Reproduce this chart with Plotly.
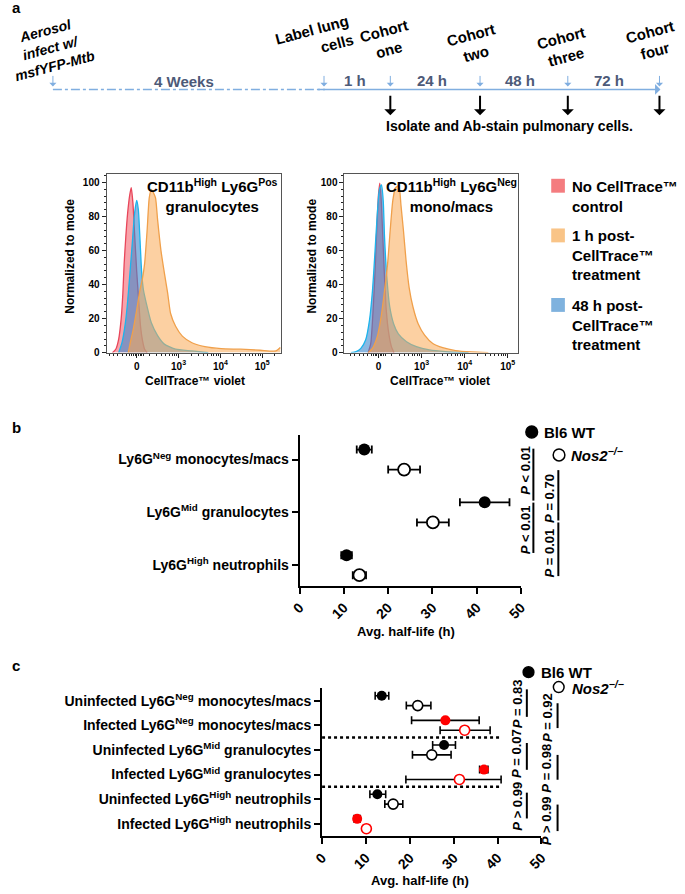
import plotly.graph_objects as go
import math

W, H = 685, 894
FONT = "Liberation Sans, Arial, sans-serif"


def X(px):
    return px / W


def Y(py):
    return 1 - py / H


# ---------------- Panel a : CellTrace histograms ----------------
# display scale: 0 -> 0, 10^3 -> 1, 10^4 -> 2, 10^5 -> 3
hist_tickvals = [0, 1, 2, 3]
hist_ticktext = ["0", "10<sup>3</sup>", "10<sup>4</sup>", "10<sup>5</sup>"]
hist_yticks = [0, 20, 40, 60, 80, 100]
hist_series = ["No CellTrace™<br>control", "1 h post-<br>CellTrace™<br>treatment",
               "48 h post-<br>CellTrace™<br>treatment"]
hist_titles = ["CD11b<sup>High</sup> Ly6G<sup>Pos</sup><br>granulocytes",
               "CD11b<sup>High</sup> Ly6G<sup>Neg</sup><br>mono/macs"]

gran_ctrl_x = [-0.58, -0.50, -0.43, -0.37, -0.33, -0.30, -0.26, -0.22, -0.17, -0.13, -0.09, -0.05,
               0.00, 0.05, 0.09, 0.14, 0.19, 0.25]
gran_ctrl_y = [0, 2, 8, 20, 35, 52, 68, 81, 92, 97, 88, 70, 48, 30, 16, 7, 2, 0]
gran_48h_x = [-0.43, -0.35, -0.27, -0.22, -0.16, -0.10, -0.05, 0.00, 0.04, 0.08, 0.12, 0.16, 0.23,
              0.35, 0.50, 0.66, 0.93, 1.32, 1.71]
gran_48h_y = [0, 6, 17.5, 29, 47, 66, 82, 89.5, 84, 66, 47, 37, 29, 17.5, 10, 5, 2, 1, 0]
gran_1h_x = [-0.20, -0.16, -0.08, 0.00, 0.08, 0.14, 0.19, 0.25, 0.30, 0.35, 0.40, 0.45, 0.50, 0.58,
             0.66, 0.74, 0.81, 0.93, 1.09, 1.32, 1.63, 2.02, 2.48, 2.95, 3.33, 3.43]
gran_1h_y = [0, 5, 14, 25, 37, 44, 52.5, 72, 91, 96, 94, 91, 78, 60, 47, 35, 23, 15.5, 9.7, 5.8,
             3.5, 2.3, 2, 1.4, 1, 3]

mono_ctrl_x = [-0.24, -0.18, -0.13, -0.08, -0.04, 0.00, 0.03, 0.06, 0.10, 0.14, 0.18, 0.24, 0.30, 0.36]
mono_ctrl_y = [0, 5.4, 23, 48, 73, 93, 99.6, 91, 68, 44, 25, 11, 3.5, 0]
mono_48h_x = [-0.64, -0.52, -0.41, -0.30, -0.21, -0.14, -0.08, -0.03, 0.02, 0.07, 0.11, 0.14, 0.20,
              0.26, 0.35, 0.46, 0.65, 0.88, 1.18, 1.56, 2.09]
mono_48h_y = [0, 0.6, 2.5, 7.4, 19, 36.5, 60, 81, 95.7, 98.6, 89, 67.6, 42, 27, 17, 11, 6.4, 3.5,
              1.6, 0.6, 0]
mono_1h_x = [-0.24, -0.14, -0.03, 0.06, 0.14, 0.21, 0.27, 0.33, 0.39, 0.45, 0.49, 0.52, 0.58, 0.64,
             0.71, 0.80, 0.92, 1.07, 1.26, 1.49, 1.79, 2.17, 2.55]
mono_1h_y = [0, 2.5, 9.3, 21, 36.5, 52, 71.5, 89, 96.7, 98, 95.7, 87, 71.5, 54, 38.4, 26.8, 17,
             10.3, 5.4, 2.9, 1.2, 0.4, 0]

# ---------------- Panel b ----------------
b_cats = ["Ly6G<sup>Neg</sup> monocytes/macs", "Ly6G<sup>Mid</sup> granulocytes",
          "Ly6G<sup>High</sup> neutrophils"]
b_wt = [14.6, 41.8, 10.6]
b_wt_sem = [1.7, 5.6, 1.2]
b_ko = [23.6, 30.1, 13.5]
b_ko_sem = [3.6, 3.6, 1.5]
b_p_col1 = ["<i>P</i> &lt; 0.01", "<i>P</i> &lt; 0.01"]
b_p_col2 = ["<i>P</i> = 0.70", "<i>P</i> = 0.01"]

# ---------------- Panel c ----------------
c_cats = ["Uninfected Ly6G<sup>Neg</sup> monocytes/macs", "Infected Ly6G<sup>Neg</sup> monocytes/macs",
          "Uninfected Ly6G<sup>Mid</sup> granulocytes", "Infected Ly6G<sup>Mid</sup> granulocytes",
          "Uninfected Ly6G<sup>High</sup> neutrophils", "Infected Ly6G<sup>High</sup> neutrophils"]
c_infected = [False, True, False, True, False, True]
c_wt = [13.6, 28.1, 27.8, 36.9, 12.6, 8.0]
c_wt_lo = [1.5, 7.7, 2.6, 1.0, 1.7, 0.7]
c_wt_hi = [1.6, 7.7, 2.6, 0.9, 1.9, 0.7]
c_ko = [21.8, 32.5, 25.0, 31.3, 16.2, 10.1]
c_ko_lo = [2.6, 5.6, 4.4, 12.2, 1.9, 0.0]
c_ko_hi = [3.0, 5.8, 4.4, 9.5, 2.2, 0.0]
c_p_col1 = ["<i>P</i> = 0.83", "<i>P</i> = 0.07", "<i>P</i> &gt; 0.99"]
c_p_col2 = ["<i>P</i> = 0.92", "<i>P</i> = 0.98", "<i>P</i> &gt; 0.99"]

x_ticks = [0, 10, 20, 30, 40, 50]

# ---------------- styles ----------------
RED_L, RED_F = "#e8465a", "rgba(242,88,100,0.55)"
ORA_L, ORA_F = "#f0a04b", "rgba(250,170,85,0.55)"
BLU_L, BLU_F = "#1cb4ec", "rgba(60,135,205,0.6)"
SLATE = "#4d5a78"
LBLUE = "#80aee0"

fig = go.Figure()


def hist(x, y, line, fill, xa, ya):
    fig.add_trace(go.Scatter(x=x, y=y, mode="lines", fill="tozeroy", fillcolor=fill,
                             line=dict(color=line, width=1.3, shape="spline", smoothing=0.6),
                             xaxis=xa, yaxis=ya, hoverinfo="skip"))


hist(gran_ctrl_x, gran_ctrl_y, RED_L, RED_F, "x", "y")
hist(gran_48h_x, gran_48h_y, BLU_L, BLU_F, "x", "y")
hist(gran_1h_x, gran_1h_y, ORA_L, ORA_F, "x", "y")
hist(mono_ctrl_x, mono_ctrl_y, RED_L, RED_F, "x2", "y2")
hist(mono_48h_x, mono_48h_y, BLU_L, BLU_F, "x2", "y2")
hist(mono_1h_x, mono_1h_y, ORA_L, ORA_F, "x2", "y2")

# panel b points
nb = len(b_cats)
b_pos = [nb - 1 - i for i in range(nb)]
off_b = 0.19
fig.add_trace(go.Scatter(x=b_wt, y=[p + off_b for p in b_pos], mode="markers",
                         marker=dict(size=12, color="black", symbol="circle"),
                         error_x=dict(type="data", array=b_wt_sem, color="black", thickness=1.8, width=4),
                         xaxis="x3", yaxis="y3"))
fig.add_trace(go.Scatter(x=b_ko, y=[p - off_b for p in b_pos], mode="markers",
                         marker=dict(size=12, color="white", symbol="circle",
                                     line=dict(color="black", width=1.8)),
                         error_x=dict(type="data", array=b_ko_sem, color="black", thickness=1.8, width=4),
                         xaxis="x3", yaxis="y3"))

# panel c points
nc = len(c_cats)
c_pos = [nc - 1 - i for i in range(nc)]
off_c = 0.2
c_col = ["#ff0000" if inf else "black" for inf in c_infected]
fig.add_trace(go.Scatter(x=c_wt, y=[p + off_c for p in c_pos], mode="markers",
                         marker=dict(size=10, color=c_col, symbol="circle"),
                         error_x=dict(type="data", symmetric=False, array=c_wt_hi, arrayminus=c_wt_lo,
                                      color="black", thickness=1.6, width=4),
                         xaxis="x4", yaxis="y4"))
fig.add_trace(go.Scatter(x=c_ko, y=[p - off_c for p in c_pos], mode="markers",
                         marker=dict(size=10, color="white", symbol="circle",
                                     line=dict(color=c_col, width=1.6)),
                         error_x=dict(type="data", symmetric=False, array=c_ko_hi, arrayminus=c_ko_lo,
                                      color="black", thickness=1.6, width=4),
                         xaxis="x4", yaxis="y4"))

# ---------------- axes ----------------
minor_hist = sorted(set(
    [-0.65, -0.55, -0.45, -0.35, -0.25, -0.16, -0.12, -0.08, -0.04, 0.04, 0.08, 0.12, 0.16]
    + [d + math.log10(k) for d in range(0, 4) for k in range(2, 10)]))


def hist_x(domain, rng, anchor):
    return dict(domain=domain, range=rng, anchor=anchor, showline=True, linecolor="#555",
                linewidth=1, mirror=True, ticks="outside", ticklen=4, tickcolor="#222",
                tickvals=hist_tickvals, ticktext=hist_ticktext,
                tickfont=dict(family=FONT, size=10, color="black", weight="bold"),
                showgrid=False, zeroline=False,
                minor=dict(tickvals=[v for v in minor_hist if rng[0] < v < rng[1]], ticklen=2.5,
                           ticks="outside", tickcolor="#222"))


def hist_y(domain, anchor):
    return dict(domain=domain, range=[0, 105.1], anchor=anchor, showline=True, linecolor="#555",
                linewidth=1, mirror=True, ticks="outside", ticklen=4, tickcolor="#222",
                tickvals=hist_yticks, tickfont=dict(family=FONT, size=10, color="black", weight="bold"),
                showgrid=False, zeroline=False,
                minor=dict(dtick=4, ticklen=2, ticks="outside", tickcolor="#222"))


def dot_x(domain, anchor):
    return dict(domain=domain, range=[0, 50], anchor=anchor, showline=True, linecolor="black",
                linewidth=2, ticks="outside", ticklen=6, tickwidth=2, tickcolor="black",
                tickvals=x_ticks, tickangle=-45,
                tickfont=dict(family=FONT, size=14, color="black", weight="bold"),
                showgrid=False, zeroline=False)


def dot_y(domain, rng, anchor, pos, cats, size):
    return dict(domain=domain, range=rng, anchor=anchor, showline=True, linecolor="black",
                linewidth=2, ticks="outside", ticklen=6, tickwidth=2, tickcolor="black",
                tickvals=pos, ticktext=cats,
                tickfont=dict(family=FONT, size=size, color="black", weight="bold"),
                showgrid=False, zeroline=False)


fig.update_layout(
    width=W, height=H, autosize=False, margin=dict(l=0, r=0, t=0, b=0),
    paper_bgcolor="white", plot_bgcolor="white", showlegend=False,
    xaxis=hist_x([X(99), X(278)], [-0.72, 3.45], "y"),
    yaxis=hist_y([Y(355), Y(175)], "x"),
    xaxis2=hist_x([X(343), X(521)], [-0.79, 3.24], "y2"),
    yaxis2=hist_y([Y(355), Y(175)], "x2"),
    xaxis3=dot_x([X(297), X(524)], "y3"),
    yaxis3=dot_y([Y(590), Y(438)], [-0.395, nb - 1 + 0.464], "x3", b_pos, b_cats, 14),
    xaxis4=dot_x([X(320), X(545)], "y4"),
    yaxis4=dot_y([Y(842), Y(693)], [-0.51, nc - 1 + 0.5], "x4", c_pos, c_cats, 14),
)

# ---------------- annotations ----------------
anns = []


def ann(text, px, py, size=14, bold=True, color="black", xanchor="center", yanchor="middle",
        angle=0, align="center"):
    anns.append(dict(text=text, x=X(px), y=Y(py), xref="paper", yref="paper", showarrow=False,
                     font=dict(family=FONT, size=size, color=color, weight="bold" if bold else "normal"),
                     xanchor=xanchor, yanchor=yanchor, textangle=angle, align=align))


def arrow(px, py, dx, dy, color, width, head, size=1):
    anns.append(dict(text="", x=X(px), y=Y(py), xref="paper", yref="paper", showarrow=True,
                     ax=dx, ay=dy, axref="pixel", ayref="pixel", arrowcolor=color,
                     arrowwidth=width, arrowhead=head, arrowsize=size))


shapes = []


def seg(x0, y0, x1, y1, color="black", width=2, dash="solid"):
    shapes.append(dict(type="line", xref="paper", yref="paper", x0=X(x0), y0=Y(y0), x1=X(x1), y1=Y(y1),
                       line=dict(color=color, width=width, dash=dash)))


# panel letters
ann("a", 7, 8, 15)
ann("b", 7, 430, 15)
ann("c", 6, 670, 15)

# timeline
seg(44, 90, 323, 90, LBLUE, 1.5, "dashdot")
arrow(667, 90, -344, 0, LBLUE, 1.5, 1, 1.2)
event_x = [44, 322, 390, 482, 572, 666]
for ex in event_x:
    arrow(ex, 87, 0, -12, LBLUE, 1, 1, 1.2)
for ex in event_x[2:]:
    arrow(ex, 116, 0, -21, "black", 2, 1, 1)
ann("<i>Aerosol<br>infect w/<br>msfYFP-Mtb</i>", 41, 48, 14, angle=-15)
ann("Label lung<br>cells", 312, 40, 15, angle=-15, align="right")
ann("Cohort<br>one", 386, 41, 15, angle=-15)
ann("Cohort<br>two", 475, 45, 15, angle=-15)
ann("Cohort<br>three", 568, 48, 15, angle=-15)
ann("Cohort<br>four", 659, 42, 15, angle=-15)
ann("4 Weeks", 178, 82, 15, color=SLATE)
for lab, lx in zip(["1 h", "24 h", "48 h", "72 h"], [354, 433, 523, 614]):
    ann(lab, lx, 81, 15, color=SLATE)
ann("Isolate and Ab-stain pulmonary cells.", 384, 127, 14, xanchor="left")

# histogram texts
ann(hist_titles[0], 208, 197, 15)
ann(hist_titles[1], 453, 197, 15)
ann("Normalized to mode", 62, 258, 12, angle=-90)
ann("Normalized to mode", 310, 258, 12, angle=-90)
ann("CellTrace™ violet", 190, 384, 12)
ann("CellTrace™ violet", 441, 384, 12)
leg_cols = ["#f47c7f", "#f9c487", "#7fb2de"]
leg_y = [187, 237, 307]
leg_ty = [198, 257, 327]
for col, ly, ty, name in zip(leg_cols, leg_y, leg_ty, hist_series):
    shapes.append(dict(type="rect", xref="paper", yref="paper", x0=X(555), x1=X(569), y0=Y(ly + 7),
                       y1=Y(ly - 7), fillcolor=col, line=dict(width=0)))
    ann(name, 574, ty, 15, xanchor="left", align="left")

# panel b extras
ann("Avg. half-life (h)", 406, 636, 13)


def circ(cx, cy, r, filled, color="black", lw=1.5):
    shapes.append(dict(type="circle", xref="paper", yref="paper", x0=X(cx - r), x1=X(cx + r),
                       y0=Y(cy + r), y1=Y(cy - r), fillcolor=color if filled else "white",
                       line=dict(color=color, width=lw)))


circ(535, 435, 6, True)
ann("Bl6 WT", 546, 435, 15, xanchor="left")
circ(563, 458, 6, False)
ann("<i>Nos2<sup>−/−</sup></i>", 573, 458, 15, xanchor="left")
for txt, ty in zip(b_p_col1, [473, 533]):
    ann(txt, 529, ty, 13, angle=-90)
for txt, ty in zip(b_p_col2, [502, 557]):
    ann(txt, 553, ty, 13, angle=-90)
seg(536.7, 451.7, 536.7, 504)
seg(536.7, 506, 536.7, 556.7)
seg(562.3, 473.3, 562.3, 524)
seg(562.3, 526, 562.3, 580)

# panel c extras
ann("Avg. half-life (h)", 420, 886, 13)
circ(531.7, 676.7, 5.5, True)
ann("Bl6 WT", 542, 676.7, 15, xanchor="left")
circ(562.7, 691.7, 5.5, False)
ann("<i>Nos2<sup>−/−</sup></i>", 574, 691.7, 15, xanchor="left")
for txt, ty in zip(c_p_col1, [709, 759, 812]):
    ann(txt, 520, ty, 13, angle=-90)
for txt, ty in zip(c_p_col2, [722, 773, 826]):
    ann(txt, 550.5, ty, 13, angle=-90)
for y0, y1 in [(694, 721.7), (748, 775), (798, 824)]:
    seg(530, y0, 530, y1)
for y0, y1 in [(708, 733), (760, 785), (810, 836.7)]:
    seg(561.5, y0, 561.5, y1)
# dotted separators between cell-type groups
for k in range(1, 3):
    yb = c_pos[2 * k - 1] - 0.5
    shapes.append(dict(type="line", xref="x4", yref="y4", x0=0, x1=41, y0=yb, y1=yb,
                       line=dict(color="black", width=2.5, dash="dot")))

fig.update_layout(annotations=anns, shapes=shapes)
fig.write_html("out.html", config={"displayModeBar": False},
               post_script="document.body.style.margin='0';document.body.style.overflow='hidden';")
